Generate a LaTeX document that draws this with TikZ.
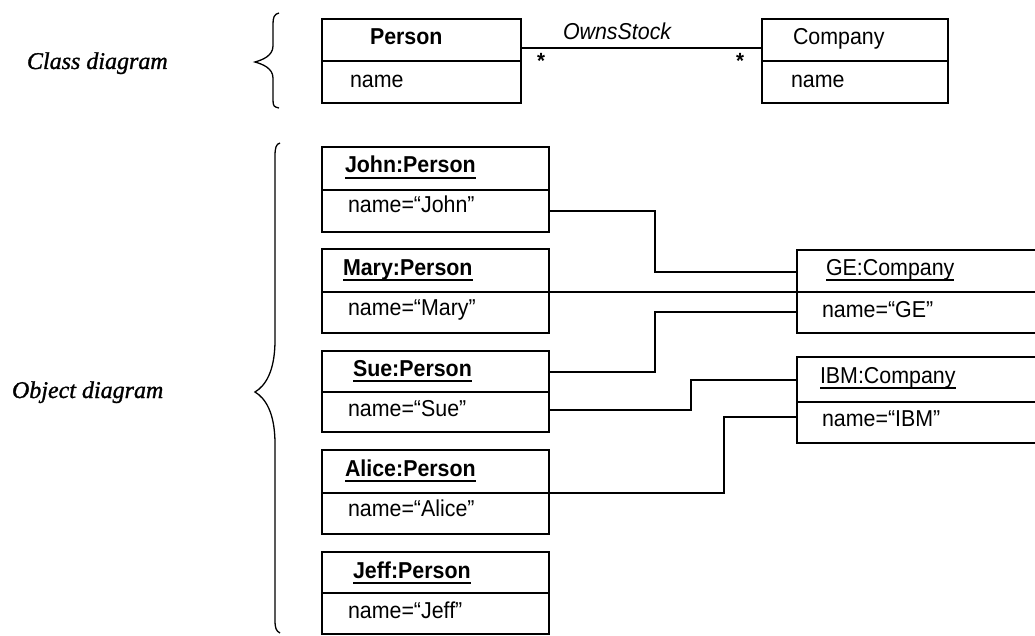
\documentclass[tikz,border=0pt]{standalone}
\usepackage{fontspec}
\usetikzlibrary{calc}
\newfontfamily\umlfont[FakeStretch=0.93]{Liberation Sans}
\newfontfamily\captionfont[FakeBold=1.2]{Liberation Serif}
% underlined object title with a heavier rule
\newcommand\objtitle[1]{\setbox0=\hbox{#1}\rlap{\vrule height -4.2pt depth 5.8pt width \wd0}\box0}
\begin{document}
\begin{tikzpicture}[x=1pt,y=-1pt,
  umlbox/.style={draw, line width=1.8pt, rectangle, inner sep=0pt, outer sep=0pt, anchor=north west},
  divline/.style={line width=1.8pt},
  conn/.style={line width=1.6pt},
  brace/.style={line width=1.3pt},
  txt/.style={inner sep=0pt, outer sep=0pt, anchor=base west, font=\umlfont\fontsize{23}{27}\selectfont},
  objtxt/.style={txt, font=\umlfont\bfseries\fontsize{23}{27}\selectfont},
  side/.style={inner sep=0pt, outer sep=0pt, anchor=base west, font=\captionfont\itshape\fontsize{24}{28}\selectfont},
  mult/.style={inner sep=0pt, outer sep=0pt, anchor=center, font=\umlfont\bfseries\fontsize{22}{26}\selectfont}]
\useasboundingbox (0,0) rectangle (1035,636);
\clip (0,0) rectangle (1035,636);

% ---------- side labels and braces ----------
\node[side] (lclass) at (27,69) {Class diagram};
\node[side] (lobject) at (12,398) {Object diagram};
\draw[brace] (279,13) .. controls (274,14) and (273,18) .. (273,24) -- (273,46)
  .. controls (273,56) and (262,60) .. (255,62)
  .. controls (262,64) and (273,68) .. (273,78) -- (273,100)
  .. controls (273,106) and (274,107) .. (279,108);
\draw[brace] (280,143) .. controls (276,144) and (275,148) .. (275,156) -- (275,340)
  .. controls (275,372) and (265,386) .. (255,392)
  .. controls (265,398) and (275,412) .. (275,444) -- (275,620)
  .. controls (275,628) and (276,631) .. (280,633);

% ---------- class diagram ----------
\node[umlbox, minimum width=199, minimum height=84] (person) at (322,19) {};
\draw[divline] (person.west |- 0,61) -- (person.east |- 0,61);
\node[txt] (personT) at (370,45) {\bfseries Person};
\node[txt] (personA) at (350,88) {name};

\node[umlbox, minimum width=186, minimum height=84] (company) at (762,19) {};
\draw[divline] (company.west |- 0,61) -- (company.east |- 0,61);
\node[txt] (companyT) at (793,45) {Company};
\node[txt] (companyA) at (791,88) {name};

\draw[conn] (person.east |- 0,48) -- (company.west |- 0,48);
\node[txt, font=\umlfont\itshape\fontsize{23}{27}\selectfont] (assoc) at (563,40) {OwnsStock};
\node[mult] (m1) at (541,61) {*};
\node[mult] (m2) at (740,61) {*};

% ---------- object diagram: persons ----------
\node[umlbox, minimum width=227, minimum height=85] (john) at (322,147) {};
\draw[divline] (john.west |- 0,190) -- (john.east |- 0,190);
\node[objtxt] (johnT) at (345,173) {\objtitle{John:Person}};
\node[txt] (johnA) at (348,213) {name=“John”};

\node[umlbox, minimum width=227, minimum height=84] (mary) at (322,249) {};
\draw[divline] (mary.west |- 0,292) -- (mary.east |- 0,292);
\node[objtxt] (maryT) at (343,275) {\objtitle{Mary:Person}};
\node[txt] (maryA) at (348,315) {name=“Mary”};

\node[umlbox, minimum width=227, minimum height=81] (sue) at (322,351) {};
\draw[divline] (sue.west |- 0,392) -- (sue.east |- 0,392);
\node[objtxt] (sueT) at (353,376) {\objtitle{Sue:Person}};
\node[txt] (sueA) at (348,416) {name=“Sue”};

\node[umlbox, minimum width=227, minimum height=84] (alice) at (322,450) {};
\draw[divline] (alice.west |- 0,493) -- (alice.east |- 0,493);
\node[objtxt] (aliceT) at (345,476) {\objtitle{Alice:Person}};
\node[txt] (aliceA) at (348,516) {name=“Alice”};

\node[umlbox, minimum width=227, minimum height=82] (jeff) at (322,552) {};
\draw[divline] (jeff.west |- 0,593) -- (jeff.east |- 0,593);
\node[objtxt] (jeffT) at (353,578) {\objtitle{Jeff:Person}};
\node[txt] (jeffA) at (348,618) {name=“Jeff”};

% ---------- object diagram: companies ----------
\node[umlbox, minimum width=260, minimum height=83] (ge) at (797,250) {};
\draw[divline] (ge.west |- 0,292) -- (ge.east |- 0,292);
\node[objtxt, font=\umlfont\fontsize{23}{27}\selectfont] (geT) at (826,275) {\objtitle{GE:Company}};
\node[txt] (geA) at (822,317) {name=“GE”};

\node[umlbox, minimum width=260, minimum height=86] (ibm) at (797,357) {};
\draw[divline] (ibm.west |- 0,402) -- (ibm.east |- 0,402);
\node[objtxt, font=\umlfont\fontsize{23}{27}\selectfont] (ibmT) at (820,383) {\objtitle{IBM:Company}};
\node[txt] (ibmA) at (822,426) {name=“IBM”};

% ---------- links ----------
\draw[conn] (john.east |- 0,211) -- (655,211) -- (655,272) -- (ge.west |- 0,272);
\draw[conn] (mary.east |- 0,292) -- (ge.west |- 0,292);
\draw[conn] (sue.east |- 0,372) -- (655,372) -- (655,312) -- (ge.west |- 0,312);
\draw[conn] (sue.east |- 0,410) -- (691,410) -- (691,380) -- (ibm.west |- 0,380);
\draw[conn] (alice.east |- 0,493) -- (724,493) -- (724,417) -- (ibm.west |- 0,417);
\end{tikzpicture}
\end{document}
